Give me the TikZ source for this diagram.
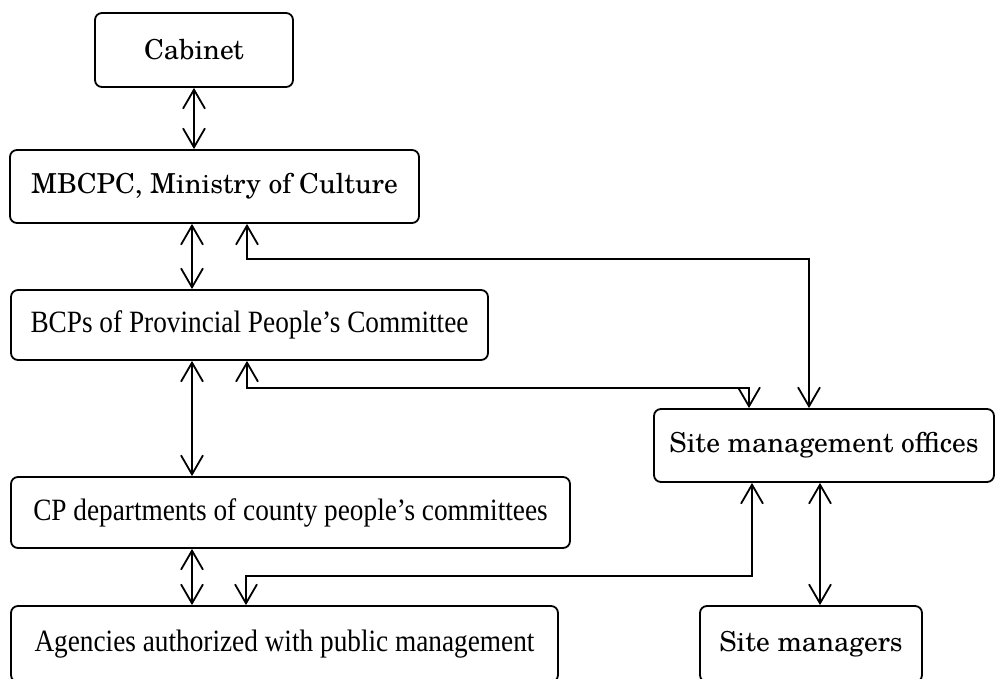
\documentclass[tikz,border=0pt]{standalone}
\usepackage{fontspec}
\newfontfamily\timesf[FakeStretch=0.88]{Liberation Serif}
\newfontfamily\centf{texgyreschola-regular.otf}
\usetikzlibrary{arrows.meta}
\begin{document}
\begin{tikzpicture}[x=1pt,y=-1pt,
  box/.style={draw, line width=1.8pt, rounded corners=7pt, inner sep=0pt, align=center},
  cent/.style={font=\centf\fontsize{27.5}{32}\selectfont},
  tms/.style={font=\timesf\fontsize{31}{36}\selectfont},
  bi/.style={line width=1.8pt, {Straight Barb[length=19pt,width=22pt]}-{Straight Barb[length=19pt,width=22pt]}},
  ]
\useasboundingbox (0,0) rectangle (997,679);
\clip (0,0) rectangle (997,679);

\node[box, cent, minimum width=198pt, minimum height=74pt] (cab) at (194,50) {Cabinet};
\node[box, cent, minimum width=409pt, minimum height=73pt] (mb) at (214.5,186.5) {MBCPC, Ministry of Culture};
\node[box, tms, minimum width=477pt, minimum height=70pt] (bcp) at (249.5,325) {BCPs of Provincial People’s Committee};
\node[box, cent, minimum width=340pt, minimum height=73pt] (smo) at (824,445.5) {Site management offices};
\node[box, tms, minimum width=559pt, minimum height=71pt] (cp) at (290.5,512.5) {CP departments of county people’s committees};
\node[box, tms, minimum width=547pt, minimum height=76pt] (ag) at (284.5,644) {Agencies authorized with public management};
\node[box, cent, minimum width=222pt, minimum height=76pt] (sm) at (811,644) {Site managers};

\coordinate (xl) at (192,0);
\coordinate (xs) at (820,0);
\coordinate (r1) at (247,259);
\coordinate (r1e) at (809,259);
\coordinate (r2) at (247,388);
\coordinate (r2e) at (749,388);
\coordinate (r3) at (246,576);
\coordinate (r3e) at (752,576);

\draw[bi] (cab.south) -- (cab.south |- mb.north);
\draw[bi] (xl |- mb.south) -- (xl |- bcp.north);
\draw[bi] (r1 |- mb.south) -- (r1) -- (r1e) -- (r1e |- smo.north);
\draw[bi] (xl |- bcp.south) -- (xl |- cp.north);
\draw[bi] (r2 |- bcp.south) -- (r2) -- (r2e) -- (r2e |- smo.north);
\draw[bi] (xl |- cp.south) -- (xl |- ag.north);
\draw[bi] (r3e |- smo.south) -- (r3e) -- (r3) -- (r3 |- ag.north);
\draw[bi] (xs |- smo.south) -- (xs |- sm.north);
\end{tikzpicture}
\end{document}
